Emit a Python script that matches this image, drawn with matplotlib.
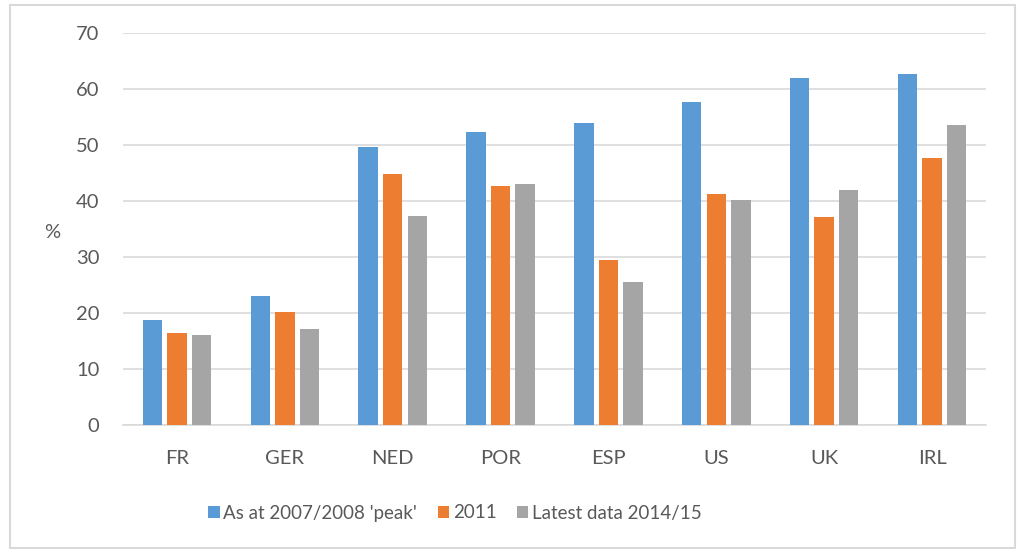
import numpy as np
import matplotlib
matplotlib.use('Agg')
from matplotlib import pyplot as plt
from matplotlib.patches import Rectangle

# 数据
countries = ['FR', 'GER', 'NED', 'POR', 'ESP', 'US', 'UK', 'IRL']
peak = [18.8, 23.1, 49.7, 52.4, 54.0, 57.7, 62.0, 62.7]
y2011 = [16.5, 20.1, 44.9, 42.6, 29.4, 41.2, 37.1, 47.7]
latest = [16.0, 17.2, 37.3, 43.1, 25.6, 40.1, 41.9, 53.5]
series_names = ["As at 2007/2008 'peak'", '2011', 'Latest data 2014/15']
y_ticks = [0, 10, 20, 30, 40, 50, 60, 70]

plt.rcParams['font.family'] = ['Lato', 'DejaVu Sans']

colors = ['#5B9BD5', '#ED7D31', '#A5A5A5']
text_color = '#595959'
grid_color = '#D9D9D9'

fig = plt.figure(figsize=(10.19, 5.49), dpi=100)
ax = fig.add_axes([0.1207, 0.2259, 0.8469, 0.7140])

x = np.arange(len(countries))
width = 0.18
step = 0.228

# 绘制柱子
for i, (vals, name) in enumerate(zip([peak, y2011, latest], series_names)):
    ax.bar(x + (i - 1) * step, vals, width, color=colors[i], label=name, zorder=3)

ax.set_xlim(-0.5, len(countries) - 0.5)
ax.set_ylim(0, 70)
ax.set_yticks(y_ticks)
ax.set_xticks(x)
ax.set_xticklabels(countries)

ax.grid(axis='y', color=grid_color, linewidth=1.2, zorder=0)
for side in ['top', 'right', 'left']:
    ax.spines[side].set_visible(False)
ax.spines['bottom'].set_color(grid_color)
ax.spines['bottom'].set_linewidth(1.2)
ax.tick_params(axis='both', length=0, labelsize=14.5, colors=text_color)
ax.tick_params(axis='y', pad=17)
ax.tick_params(axis='x', pad=18)

fig.text(52 / 1019, 1 - 232 / 549, '%', fontsize=14.5, color=text_color,
         ha='center', va='center')

# 图例
fig.legend(loc='center', bbox_to_anchor=(455 / 1019, 1 - 513 / 549), ncol=3,
           frameon=False, fontsize=13.5, handlelength=0.6, handleheight=0.6,
           handletextpad=0.2, columnspacing=1.1, labelcolor=text_color)

# 外框
fig.patches.append(Rectangle((10 / 1019, 1 / 549), 1005 / 1019, 543 / 549,
                             transform=fig.transFigure, fill=False,
                             edgecolor=grid_color, linewidth=1.5))

fig.savefig('out.png', dpi=100)
